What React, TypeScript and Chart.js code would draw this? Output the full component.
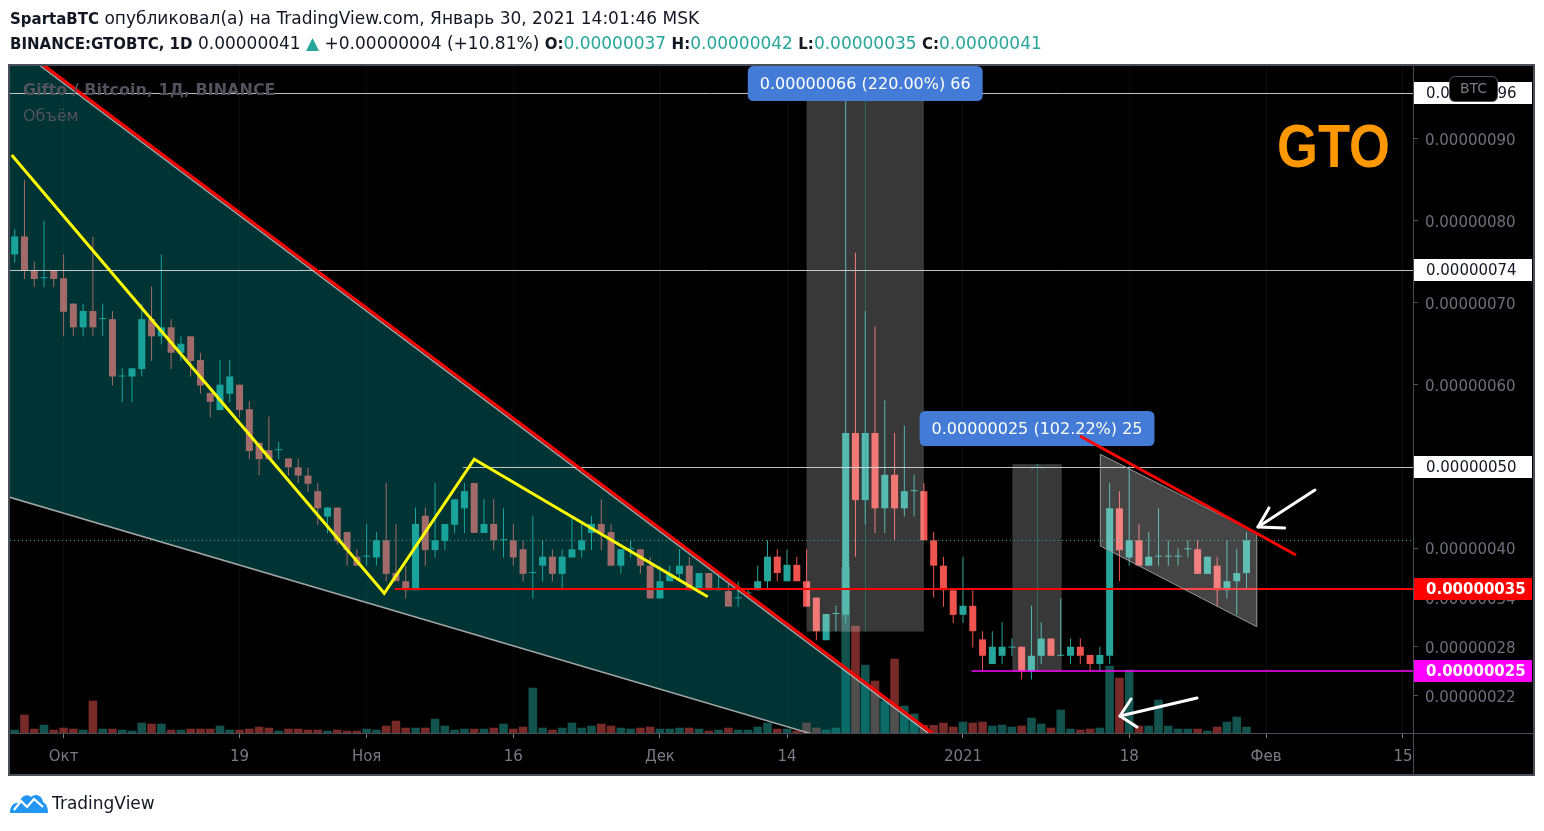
import React, { useEffect, useRef } from 'react';
import { Chart, registerables } from 'chart.js';

Chart.register(...registerables);

// ---------------- data (prices in satoshi = 1e-8 BTC, days counted from 1 Oct 2020) ----------------
const FIRST_DAY = -5;
const OPEN = [
  75.9, 78.1, 74.0, 73.0, 74.0, 73.0, 69.9, 67.0, 69.0, 68.0,
  68.0, 61.0, 61.0, 61.9, 68.0, 65.9, 67.0, 63.9, 65.9, 63.0,
  59.0, 56.9, 58.9, 60.0, 57.0, 52.9, 52.0, 52.0, 51.0, 49.9,
  48.9, 47.0, 43.9, 45.0, 42.0, 39.0, 39.0, 38.9, 41.0, 37.0,
  36.0, 34.9, 44.0, 39.8, 40.9, 42.9, 44.9, 48.0, 41.9, 43.0,
  41.0, 41.0, 39.9, 37.0, 37.9, 39.0, 36.9, 38.9, 39.8, 41.9,
  43.0, 42.0, 37.9, 39.9, 39.9, 37.9, 33.9, 36.0, 36.9, 37.9,
  34.9, 37.0, 34.9, 34.8, 33.9, 34.5, 34.9, 36.0, 39.0, 36.0,
  38.0, 36.0, 34.0, 28.8, 32.0, 31.9, 54.1, 45.9, 54.1, 44.9,
  49.0, 44.9, 47.0, 47.0, 41.0, 37.9, 34.9, 31.9, 33.0, 28.9,
  25.9, 26.9, 27.9, 28.0, 25.0, 26.9, 29.0, 26.9, 26.9, 28.0,
  27.0, 25.9, 26.9, 44.9, 38.9, 41.0, 37.9, 39.0, 39.0, 39.0,
  39.9, 39.9, 36.9, 37.9, 34.9, 36.0, 37.0,
];
const HIGH = [
  79.0, 85.0, 75.0, 80.0, 74.0, 75.9, 69.9, 69.9, 78.1, 69.9,
  69.0, 62.0, 62.0, 69.9, 72.0, 75.9, 68.0, 65.9, 65.9, 63.9,
  59.0, 63.0, 63.0, 60.0, 58.0, 52.9, 56.1, 53.0, 51.0, 51.0,
  49.9, 48.0, 45.0, 45.0, 42.0, 39.9, 43.0, 42.0, 48.0, 43.0,
  37.9, 45.0, 45.0, 48.0, 43.0, 46.0, 48.0, 48.0, 46.0, 46.0,
  44.9, 43.0, 41.0, 44.0, 41.0, 39.9, 39.9, 43.7, 43.0, 44.0,
  46.0, 43.0, 39.9, 41.0, 39.9, 39.0, 37.9, 37.9, 39.9, 39.0,
  37.0, 37.0, 37.0, 35.7, 36.0, 35.2, 37.9, 41.0, 39.9, 39.9,
  39.0, 39.9, 34.0, 32.0, 33.0, 95.6, 76.1, 69.0, 67.1, 58.1,
  54.1, 55.0, 49.0, 48.0, 42.0, 39.0, 34.9, 39.0, 34.9, 29.9,
  29.9, 31.0, 29.0, 28.0, 33.0, 31.0, 29.0, 33.9, 29.0, 29.0,
  27.0, 28.0, 48.0, 47.0, 50.0, 43.0, 42.0, 44.9, 41.0, 40.0,
  41.0, 41.0, 39.0, 39.0, 41.0, 39.9, 42.0,
];
const LOW = [
  74.9, 72.9, 71.9, 71.9, 71.9, 65.9, 65.9, 65.9, 65.9, 65.9,
  59.9, 57.9, 57.9, 61.0, 62.9, 64.9, 61.9, 62.9, 61.0, 58.9,
  56.0, 56.9, 57.9, 56.0, 50.9, 48.9, 50.9, 50.9, 48.9, 48.0,
  46.9, 42.9, 41.9, 40.5, 37.9, 37.9, 37.9, 37.9, 36.0, 36.0,
  33.9, 34.9, 37.9, 38.9, 39.8, 41.9, 41.9, 41.9, 41.9, 39.8,
  38.9, 37.9, 36.0, 33.9, 36.0, 36.0, 34.9, 38.9, 38.9, 39.8,
  39.8, 37.9, 36.9, 38.9, 36.9, 33.9, 33.9, 36.0, 36.0, 34.9,
  34.9, 34.9, 34.9, 32.9, 32.9, 34.0, 34.9, 34.9, 36.0, 36.0,
  36.0, 32.9, 28.8, 28.8, 29.9, 30.9, 39.0, 42.9, 41.9, 41.9,
  41.0, 43.9, 43.9, 41.0, 34.0, 32.9, 30.9, 30.9, 27.9, 24.9,
  25.9, 25.9, 26.9, 24.0, 24.0, 25.9, 26.9, 26.9, 25.9, 25.9,
  25.0, 25.0, 25.9, 36.0, 37.9, 37.9, 37.9, 37.9, 37.9, 37.9,
  38.9, 36.9, 36.9, 32.9, 33.9, 31.9, 35.0,
];
const CLOSE = [
  78.1, 74.0, 72.9, 73.0, 72.9, 68.9, 67.0, 69.0, 67.0, 68.0,
  61.0, 61.0, 62.0, 68.0, 65.9, 67.0, 63.9, 65.0, 62.9, 59.9,
  57.9, 60.0, 61.0, 56.9, 51.9, 50.9, 50.9, 52.0, 49.9, 48.9,
  47.9, 44.9, 45.0, 40.9, 39.8, 37.9, 39.0, 41.0, 36.9, 36.0,
  34.9, 43.0, 39.8, 41.0, 43.0, 46.0, 47.0, 41.9, 43.0, 41.0,
  41.0, 38.9, 36.9, 37.0, 39.0, 36.9, 39.0, 39.9, 41.0, 43.0,
  41.9, 37.9, 39.9, 39.9, 37.9, 33.9, 36.0, 36.9, 37.9, 34.9,
  37.0, 34.9, 35.2, 32.9, 33.9, 34.5, 36.0, 39.0, 37.0, 38.0,
  36.0, 32.9, 29.9, 32.0, 32.0, 54.1, 45.9, 54.1, 44.9, 49.0,
  44.9, 47.0, 47.0, 41.0, 37.9, 34.9, 31.9, 33.0, 29.9, 26.9,
  28.0, 28.0, 27.9, 25.0, 26.9, 29.0, 26.9, 26.9, 28.0, 26.9,
  25.9, 27.0, 44.9, 39.8, 41.0, 37.9, 39.0, 39.0, 39.0, 39.0,
  39.9, 36.9, 39.0, 34.9, 36.0, 37.0, 41.0,
];
const VOLUME = [
  3.3, 18.3, 4.3, 8.3, 3.3, 5.3, 4.3, 3.3, 32.3, 4.3,
  4.3, 3.3, 2.3, 10.3, 9.3, 9.3, 3.3, 3.3, 4.3, 4.3,
  4.3, 7.3, 3.3, 3.3, 4.3, 6.3, 5.3, 2.3, 4.3, 4.3,
  3.3, 3.3, 2.3, 3.3, 2.3, 2.3, 4.3, 3.3, 7.3, 12.3,
  5.3, 5.3, 5.3, 14.3, 7.3, 3.3, 4.3, 4.3, 4.3, 5.3,
  9.3, 4.3, 6.3, 45.3, 5.3, 3.3, 5.3, 10.3, 5.3, 7.3,
  9.3, 7.3, 5.3, 4.3, 5.3, 6.3, 4.3, 4.3, 5.3, 5.3,
  4.3, 2.3, 3.3, 5.3, 3.3, 3.3, 6.3, 10.3, 4.3, 4.3,
  2.3, 10.3, 5.3, 3.3, 5.3, 166, 107.3, 68.3, 52.3, 31.7,
  74.3, 27.3, 19.3, 8, 8, 10.3, 6.3, 11.3, 10.3, 11.3,
  7.3, 8.3, 6.3, 7.3, 15.3, 9.3, 5.3, 23.3, 4.3, 3.3,
  4.3, 5.3, 67.3, 55.3, 63.3, 7.3, 7.3, 33.3, 7.3, 4.3,
  4.3, 4.3, 2.3, 6.3, 11.3, 16.3, 6.3,
];

const X_TICK_DAYS = [0, 18, 31, 46, 61, 74, 92, 109, 123, 137];
const X_TICK_LABELS = ['Окт', '19', 'Ноя', '16', 'Дек', '14', '2021', '18', 'Фев', '15'];
const Y_TICK_VALUES = [22, 28, 34, 40, 50, 60, 70, 80, 90];
const X_RANGE = [-5.48, 138.03];
const Y_RANGE = [17.47, 98.91];
const VOLUME_AXIS_MAX = 667;

// price levels (horizontal lines) and their start day
const LEVEL_PRICES = [95.6, 74, 50, 35, 25];
const LEVEL_START_DAYS = [-10, -10, 40.85, 33.9, 92.9];
const LAST_PRICE = 41;

// drawings, as (day, price) pairs
const ZIGZAG_DAYS = [-5.31, 32.8, 42.01, 65.89];
const ZIGZAG_PRICES = [88.05, 34.53, 50.89, 34.11];
const TREND_DAYS = [-2.08, 88.83];
const TREND_PRICES = [99.04, 17.47];
const CHANNEL_TOP_DAYS = [-2.08, 88.83];
const CHANNEL_TOP_PRICES = [98.67, 17.1];
const CHANNEL_BOTTOM_DAYS = [-5.48, 75.84];
const CHANNEL_BOTTOM_PRICES = [46.24, 17.6];
const FLAG_TREND_DAYS = [103.97, 126.06];
const FLAG_TREND_PRICES = [53.74, 39.2];
const FLAG_DAYS = [106.05, 122.05];
const FLAG_TOP_PRICES = [51.5, 41.86];
const FLAG_BOTTOM_PRICES = [40.31, 30.45];
const RANGE_FROM_DAYS = [76.0, 97.05];
const RANGE_TO_DAYS = [88.0, 102.1];
const RANGE_LOW = [29.85, 24.95];
const RANGE_HIGH = [95.9, 50.3];
const RANGE_TEXT = ['0.00000066 (220.00%) 66', '0.00000025 (102.22%) 25'];
// arrows: tail, tip, wing, wing
const ARROW1_DAYS = [128.0, 122.17, 123.3, 124.9];
const ARROW1_PRICES = [47.14, 42.63, 44.95, 42.5];
const ARROW2_DAYS = [115.94, 108.06, 109.19, 109.8];
const ARROW2_PRICES = [21.75, 19.55, 21.62, 18.2];

// texts
const AUTHOR = 'SpartaBTC';
const PUBLISHED = ' опубликовал(а) на TradingView.com, Январь 30, 2021 14:01:46 MSK';
const SYMBOL = 'BINANCE:GTOBTC, 1D';
const LAST_TEXT = '0.00000041';
const CHANGE_TEXT = '+0.00000004 (+10.81%)';
const OHLC_KEYS = ['O:', 'H:', 'L:', 'C:'];
const OHLC_VALUES = ['0.00000037', '0.00000042', '0.00000035', '0.00000041'];
const LEGEND_TITLE = 'Gifto / Bitcoin, 1Д, BINANCE';
const LEGEND_VOLUME = 'Объём';
const TICKER = 'GTO';

// ---------------- rendering ----------------
const UP = '#26a69a';
const DOWN = '#ef5350';
const FRAME = { l: 10, t: 65, r: 1534, b: 775 };
const FONT = '"DejaVu Sans", sans-serif';

function rr(ctx: CanvasRenderingContext2D, x: number, y: number, w: number, h: number, r: number) {
  ctx.beginPath();
  ctx.moveTo(x + r, y);
  ctx.lineTo(x + w - r, y);
  ctx.quadraticCurveTo(x + w, y, x + w, y + r);
  ctx.lineTo(x + w, y + h - r);
  ctx.quadraticCurveTo(x + w, y + h, x + w - r, y + h);
  ctx.lineTo(x + r, y + h);
  ctx.quadraticCurveTo(x, y + h, x, y + h - r);
  ctx.lineTo(x, y + r);
  ctx.quadraticCurveTo(x, y, x + r, y);
  ctx.closePath();
}

const overlayPlugin = {
  id: 'tvOverlay',
  beforeDraw(chart: any) {
    const ctx = chart.ctx as CanvasRenderingContext2D;
    ctx.save();
    ctx.fillStyle = '#000000';
    ctx.fillRect(FRAME.l, FRAME.t, FRAME.r - FRAME.l, FRAME.b - FRAME.t);
    ctx.restore();
  },
  afterDatasetsDraw(chart: any) {
    const ctx = chart.ctx as CanvasRenderingContext2D;
    const ca = chart.chartArea;
    const X = (d: number) => chart.scales.x.getPixelForValue(d);
    const Y = (v: number) => chart.scales.y.getPixelForValue(v);
    const seg = (ds: number[], ps: number[]) => {
      ctx.beginPath();
      ds.forEach((d, i) => (i === 0 ? ctx.moveTo(X(d), Y(ps[i])) : ctx.lineTo(X(d), Y(ps[i]))));
      ctx.stroke();
    };
    ctx.save();
    ctx.beginPath();
    ctx.rect(ca.left, ca.top, ca.right - ca.left, ca.bottom - ca.top);
    ctx.clip();

    // channel fill
    const sT = (CHANNEL_TOP_PRICES[1] - CHANNEL_TOP_PRICES[0]) / (CHANNEL_TOP_DAYS[1] - CHANNEL_TOP_DAYS[0]);
    const aT = CHANNEL_TOP_PRICES[0] - sT * CHANNEL_TOP_DAYS[0];
    const sB = (CHANNEL_BOTTOM_PRICES[1] - CHANNEL_BOTTOM_PRICES[0]) / (CHANNEL_BOTTOM_DAYS[1] - CHANNEL_BOTTOM_DAYS[0]);
    const aB = CHANNEL_BOTTOM_PRICES[0] - sB * CHANNEL_BOTTOM_DAYS[0];
    const dI = (aB - aT) / (sT - sB);
    const vI = aT + sT * dI;
    const dA = X_RANGE[0] - 5;
    ctx.beginPath();
    ctx.moveTo(X(dA), Y(aT + sT * dA));
    ctx.lineTo(X(dI), Y(vI));
    ctx.lineTo(X(dA), Y(aB + sB * dA));
    ctx.closePath();
    ctx.fillStyle = 'rgba(0,160,160,0.32)';
    ctx.fill();
    ctx.strokeStyle = 'rgba(190,190,190,0.85)';
    ctx.lineWidth = 1.5;
    seg([dA, dI], [aT + sT * dA, vI]);
    seg([dA, dI], [aB + sB * dA, vI]);

    // date & price range boxes
    RANGE_FROM_DAYS.forEach((d0, i) => {
      const x0 = X(d0), x1 = X(RANGE_TO_DAYS[i]);
      const yT = Y(RANGE_HIGH[i]), yB = Y(RANGE_LOW[i]);
      ctx.fillStyle = 'rgba(255,255,255,0.22)';
      ctx.fillRect(x0, yT, x1 - x0, yB - yT);
      const cx = Math.round((x0 + x1) / 2) + 0.5;
      ctx.strokeStyle = 'rgba(38,166,154,0.45)';
      ctx.lineWidth = 1;
      ctx.beginPath();
      ctx.moveTo(cx, yB);
      ctx.lineTo(cx, yT);
      ctx.moveTo(cx - 7, yT + 7);
      ctx.lineTo(cx, yT);
      ctx.lineTo(cx + 7, yT + 7);
      ctx.stroke();
    });

    // horizontal levels
    const levelColors = ['rgba(215,215,215,0.9)', 'rgba(215,215,215,0.9)', 'rgba(215,215,215,0.9)', '#ff0000', '#ff00ff'];
    const levelWidths = [1, 1, 1, 2, 1.5];
    LEVEL_PRICES.forEach((v, i) => {
      const w = levelWidths[i];
      const y = Math.round(Y(v)) + (w % 2 === 1 ? 0.5 : 0);
      ctx.strokeStyle = levelColors[i];
      ctx.lineWidth = w;
      ctx.beginPath();
      ctx.moveTo(Math.max(X(LEVEL_START_DAYS[i]), ca.left), y);
      ctx.lineTo(ca.right, y);
      ctx.stroke();
    });
    // last price dotted line
    ctx.save();
    ctx.setLineDash([1, 3]);
    ctx.strokeStyle = UP;
    ctx.lineWidth = 1;
    const yl = Math.round(Y(LAST_PRICE)) + 0.5;
    ctx.beginPath();
    ctx.moveTo(ca.left, yl);
    ctx.lineTo(ca.right, yl);
    ctx.stroke();
    ctx.restore();

    // yellow zigzag
    ctx.strokeStyle = '#ffff00';
    ctx.lineWidth = 3;
    ctx.lineJoin = 'miter';
    seg(ZIGZAG_DAYS, ZIGZAG_PRICES);

    // red trend line
    ctx.strokeStyle = '#ff0000';
    ctx.lineWidth = 3;
    seg(TREND_DAYS, TREND_PRICES);

    // flag parallelogram
    ctx.beginPath();
    ctx.moveTo(X(FLAG_DAYS[0]), Y(FLAG_TOP_PRICES[0]));
    ctx.lineTo(X(FLAG_DAYS[1]), Y(FLAG_TOP_PRICES[1]));
    ctx.lineTo(X(FLAG_DAYS[1]), Y(FLAG_BOTTOM_PRICES[1]));
    ctx.lineTo(X(FLAG_DAYS[0]), Y(FLAG_BOTTOM_PRICES[0]));
    ctx.closePath();
    ctx.fillStyle = 'rgba(255,255,255,0.27)';
    ctx.fill();
    ctx.strokeStyle = 'rgba(150,150,150,1)';
    ctx.lineWidth = 1;
    ctx.stroke();

    // range labels
    ctx.font = '16px ' + FONT;
    RANGE_TEXT.forEach((t, i) => {
      const cx = (X(RANGE_FROM_DAYS[i]) + X(RANGE_TO_DAYS[i])) / 2;
      const h = 35;
      const bottom = Math.max(Y(RANGE_HIGH[i]) - 18, ca.top + h);
      const w = ctx.measureText(t).width + 24;
      rr(ctx, cx - w / 2, bottom - h, w, h, 6);
      ctx.fillStyle = '#447bd6';
      ctx.fill();
      ctx.fillStyle = '#ffffff';
      ctx.textAlign = 'center';
      ctx.textBaseline = 'middle';
      ctx.fillText(t, cx, bottom - h / 2 + 1);
    });

    // flag trend line (drawn above the label)
    ctx.strokeStyle = '#ff0000';
    ctx.lineWidth = 3;
    seg(FLAG_TREND_DAYS, FLAG_TREND_PRICES);

    // white arrows
    ctx.strokeStyle = '#ffffff';
    ctx.lineWidth = 3;
    ctx.lineCap = 'round';
    ctx.lineJoin = 'round';
    [[ARROW1_DAYS, ARROW1_PRICES], [ARROW2_DAYS, ARROW2_PRICES]].forEach(([ds, ps]) => {
      seg([ds[0], ds[1]], [ps[0], ps[1]]);
      seg([ds[2], ds[1], ds[3]], [ps[2], ps[1], ps[3]]);
    });
    ctx.lineCap = 'butt';

    // legend texts
    ctx.textAlign = 'left';
    ctx.textBaseline = 'middle';
    ctx.fillStyle = '#50535e';
    ctx.font = 'bold 16px ' + FONT;
    ctx.fillText(LEGEND_TITLE, ca.left + 13, ca.top + 25);
    ctx.font = '16px ' + FONT;
    ctx.fillText(LEGEND_VOLUME, ca.left + 13, ca.top + 51);

    // ticker
    ctx.font = 'bold 62px "Liberation Sans", sans-serif';
    ctx.textBaseline = 'alphabetic';
    const tw = ctx.measureText(TICKER).width;
    ctx.save();
    ctx.translate(1277, 167);
    ctx.scale(113 / tw, 1);
    ctx.fillStyle = '#ff9800';
    ctx.fillText(TICKER, 0, 0);
    ctx.restore();

    ctx.restore();
  },
  afterDraw(chart: any) {
    const ctx = chart.ctx as CanvasRenderingContext2D;
    const ca = chart.chartArea;
    const Y = (v: number) => chart.scales.y.getPixelForValue(v);
    ctx.save();
    // separators
    ctx.strokeStyle = '#4a4e59';
    ctx.lineWidth = 1;
    ctx.beginPath();
    ctx.moveTo(Math.round(ca.right) + 0.5, FRAME.t);
    ctx.lineTo(Math.round(ca.right) + 0.5, FRAME.b);
    ctx.moveTo(FRAME.l, Math.round(ca.bottom) + 0.5);
    ctx.lineTo(FRAME.r, Math.round(ca.bottom) + 0.5);
    ctx.stroke();

    // price labels on the axis
    const bg = ['#ffffff', '#ffffff', '#ffffff', '#ff0000', '#ff00ff'];
    LEVEL_PRICES.forEach((v, i) => {
      const y = Y(v);
      ctx.fillStyle = bg[i];
      ctx.fillRect(ca.right + 1, Math.round(y) - 11, FRAME.r - 3 - ca.right, 22);
      ctx.fillStyle = i >= 3 ? '#ffffff' : '#131722';
      ctx.font = (i >= 3 ? 'bold ' : '') + '15px ' + FONT;
      ctx.textAlign = 'left';
      ctx.textBaseline = 'middle';
      ctx.fillText((v * 1e-8).toFixed(8), ca.right + 13, Math.round(y) + 1);
    });

    // currency badge
    rr(ctx, ca.right + 36.5, ca.top + 10.5, 48, 25, 6);
    ctx.fillStyle = '#000000';
    ctx.fill();
    ctx.strokeStyle = '#50535e';
    ctx.lineWidth = 1;
    ctx.stroke();
    ctx.fillStyle = '#787b86';
    ctx.font = '14px ' + FONT;
    ctx.textAlign = 'center';
    ctx.textBaseline = 'middle';
    ctx.fillText('BTC', ca.right + 60.5, ca.top + 23.5);

    // frame
    ctx.strokeStyle = '#4a4e59';
    ctx.lineWidth = 2;
    ctx.strokeRect(FRAME.l - 1, FRAME.t, FRAME.r - FRAME.l + 1, FRAME.b - FRAME.t);
    ctx.restore();
  },
};

export default function App() {
  const ref = useRef<HTMLCanvasElement>(null);

  useEffect(() => {
    const days = OPEN.map((_, i) => FIRST_DAY + i);
    const isUp = days.map((_, i) => CLOSE[i] >= OPEN[i]);
    const candleColors = isUp.map((u) => (u ? UP : DOWN));
    const volColors = isUp.map((u) => (u ? 'rgba(38,166,154,0.5)' : 'rgba(239,83,80,0.5)'));

    const chart = new Chart(ref.current as HTMLCanvasElement, {
      type: 'bar',
      data: {
        datasets: [
          {
            label: 'Объём',
            yAxisID: 'yv',
            data: days.map((d, i) => ({ x: d, y: VOLUME[i] })),
            backgroundColor: volColors,
            barThickness: 8.6,
            grouped: false,
            order: 3,
            borderWidth: 0,
            inflateAmount: 0,
          } as any,
          {
            label: 'wick',
            yAxisID: 'y',
            data: days.map((d, i) => ({ x: d, y: [LOW[i], HIGH[i]] })),
            backgroundColor: candleColors,
            barThickness: 1,
            grouped: false,
            order: 2,
            borderWidth: 0,
            inflateAmount: 0,
          } as any,
          {
            label: 'body',
            yAxisID: 'y',
            data: days.map((d, i) => ({ x: d, y: [OPEN[i], CLOSE[i]] })),
            backgroundColor: candleColors,
            barThickness: 7,
            grouped: false,
            order: 1,
            borderWidth: 0,
            minBarLength: 1,
            inflateAmount: 0,
          } as any,
        ],
      },
      options: {
        animation: false,
        responsive: false,
        maintainAspectRatio: false,
        events: [],
        layout: { autoPadding: false, padding: { left: 10, top: 66, right: 10, bottom: 56 } },
        plugins: { legend: { display: false }, tooltip: { enabled: false } },
        scales: {
          x: {
            type: 'linear',
            min: X_RANGE[0],
            max: X_RANGE[1],
            offset: false,
            bounds: 'data',
            afterBuildTicks: (s: any) => {
              s.ticks = X_TICK_DAYS.map((v) => ({ value: v }));
            },
            afterFit: (s: any) => {
              s.height = 42;
            },
            grid: {
              offset: false,
              drawOnChartArea: true,
              color: 'rgba(255,255,255,0.045)',
              tickColor: '#787b86',
              tickLength: 5,
            },
            border: { display: false },
            ticks: {
              autoSkip: false,
              maxRotation: 0,
              color: '#787b86',
              padding: 10,
              font: { family: FONT, size: 15 },
              callback: (_v: any, i: number) => X_TICK_LABELS[i],
            },
          },
          y: {
            type: 'linear',
            position: 'right',
            min: Y_RANGE[0],
            max: Y_RANGE[1],
            bounds: 'data',
            afterBuildTicks: (s: any) => {
              s.ticks = Y_TICK_VALUES.map((v) => ({ value: v }));
            },
            afterFit: (s: any) => {
              s.width = 121;
            },
            grid: { drawOnChartArea: false, tickColor: '#50535e', tickLength: 5 },
            border: { display: false },
            ticks: {
              autoSkip: false,
              color: '#6d707b',
              padding: 7,
              labelOffset: 2,
              font: { family: FONT, size: 15 },
              callback: (v: any) => (Number(v) * 1e-8).toFixed(8),
            },
          },
          yv: { type: 'linear', display: false, min: 0, max: VOLUME_AXIS_MAX },
        },
      } as any,
      plugins: [overlayPlugin],
    });
    return () => chart.destroy();
  }, []);

  const head: React.CSSProperties = {
    position: 'absolute',
    left: 10,
    whiteSpace: 'nowrap',
    fontFamily: FONT,
    fontSize: 17,
    lineHeight: '22px',
    color: '#131722',
  };
  const bold: React.CSSProperties = { fontWeight: 'bold', fontSize: 15 };
  const teal: React.CSSProperties = { color: UP };

  return (
    <div style={{ position: 'fixed', left: 0, top: 0, width: 1544, height: 831, background: '#ffffff', overflow: 'hidden' }}>
      <canvas ref={ref} width={1544} height={831} style={{ position: 'absolute', left: 0, top: 0, width: 1544, height: 831 }} />
      <div style={{ ...head, top: 7 }}>
        <span style={bold}>{AUTHOR}</span>
        {PUBLISHED}
      </div>
      <div style={{ ...head, top: 32 }}>
        <span style={bold}>{SYMBOL}</span> {LAST_TEXT} <span style={teal}>▲</span> {CHANGE_TEXT}
        {OHLC_KEYS.map((k, i) => (
          <span key={k}>
            {' '}
            <span style={bold}>{k}</span>
            <span style={teal}>{OHLC_VALUES[i]}</span>
          </span>
        ))}
      </div>
      <svg style={{ position: 'absolute', left: 10, top: 793 }} width="38" height="20" viewBox="0 0 38 20">
        <path d="M0 20 C0 13 4 9 9 10 C11 3 17 0 21 4 C25 0 32 2 33 9 C37 11 38 16 38 20 Z" fill="#2196f3" />
        <path d="M4 17 L11 8 L17 14 L24 6 L33 14" stroke="#ffffff" strokeWidth="2.2" fill="none" />
      </svg>
      <div style={{ ...head, left: 52, top: 792, fontSize: 17 }}>TradingView</div>
    </div>
  );
}
